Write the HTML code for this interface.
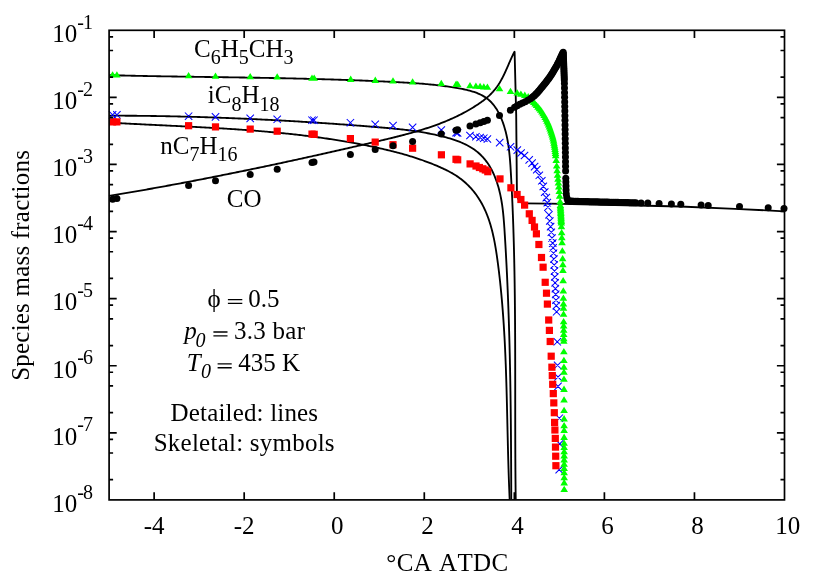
<!DOCTYPE html>
<html><head><meta charset="utf-8"><title>Species mass fractions</title>
<style>html,body{margin:0;padding:0;background:#fff;}svg{display:block;will-change:transform;}</style>
</head><body>
<svg width="830" height="581" viewBox="0 0 830 581">
<rect width="830" height="581" fill="#fff"/>
<g fill="none" stroke="#000" stroke-width="1.85" stroke-linejoin="round" stroke-linecap="butt">
<path d="M109.10 122.57 L110.60 122.66 L112.10 122.75 L113.60 122.83 L115.10 122.92 L116.60 123.00 L118.10 123.09 L119.60 123.17 L121.10 123.25 L122.60 123.33 L124.10 123.41 L125.60 123.49 L127.10 123.57 L128.60 123.65 L130.11 123.73 L131.61 123.81 L133.11 123.88 L134.61 123.96 L136.11 124.04 L137.62 124.11 L139.12 124.19 L140.62 124.26 L142.12 124.34 L143.63 124.41 L145.13 124.49 L146.63 124.56 L148.13 124.63 L149.64 124.71 L151.14 124.78 L152.64 124.85 L154.15 124.93 L155.65 125.00 L157.15 125.07 L158.66 125.14 L160.16 125.22 L161.66 125.29 L163.17 125.36 L164.67 125.43 L166.17 125.51 L167.68 125.58 L169.18 125.65 L170.69 125.72 L172.19 125.80 L173.69 125.87 L175.20 125.94 L176.70 126.01 L178.20 126.09 L179.71 126.16 L181.21 126.24 L182.72 126.31 L184.22 126.39 L185.72 126.46 L187.23 126.54 L188.73 126.61 L190.23 126.69 L191.74 126.76 L193.24 126.84 L194.75 126.92 L196.25 127.00 L197.75 127.08 L199.26 127.15 L200.76 127.23 L202.26 127.31 L203.77 127.40 L205.27 127.48 L206.77 127.56 L208.28 127.64 L209.78 127.73 L211.28 127.81 L212.79 127.90 L214.29 127.98 L215.79 128.07 L217.29 128.16 L218.80 128.25 L220.30 128.34 L221.80 128.43 L223.30 128.52 L224.81 128.61 L226.31 128.70 L227.81 128.80 L229.31 128.89 L230.82 128.99 L232.32 129.09 L233.82 129.19 L235.32 129.29 L236.82 129.39 L238.32 129.49 L239.82 129.60 L241.32 129.70 L242.83 129.81 L244.33 129.91 L245.83 130.02 L247.33 130.13 L248.83 130.24 L250.33 130.36 L251.83 130.47 L253.33 130.59 L254.83 130.70 L256.33 130.82 L257.83 130.94 L259.32 131.07 L260.82 131.19 L262.32 131.31 L263.82 131.44 L265.32 131.57 L266.82 131.70 L268.31 131.83 L269.81 131.96 L271.31 132.10 L272.81 132.24 L274.30 132.37 L275.80 132.51 L277.30 132.66 L278.79 132.80 L280.29 132.95 L281.79 133.09 L283.28 133.24 L284.78 133.40 L286.27 133.55 L287.77 133.70 L289.26 133.86 L290.76 134.02 L292.25 134.18 L293.74 134.35 L295.24 134.51 L296.73 134.68 L298.22 134.85 L299.72 135.03 L301.21 135.20 L302.70 135.38 L304.19 135.56 L305.68 135.74 L307.18 135.92 L308.67 136.11 L310.16 136.30 L311.65 136.49 L313.14 136.68 L314.63 136.88 L316.12 137.08 L317.61 137.28 L319.09 137.48 L320.58 137.69 L322.07 137.89 L323.56 138.10 L325.05 138.32 L326.53 138.53 L328.02 138.75 L329.51 138.98 L330.99 139.20 L332.48 139.43 L333.96 139.66 L335.45 139.89 L336.93 140.12 L338.42 140.36 L339.90 140.60 L341.38 140.85 L342.87 141.09 L344.35 141.34 L345.83 141.60 L347.31 141.85 L348.79 142.11 L350.28 142.37 L351.76 142.64 L353.24 142.91 L354.72 143.18 L356.20 143.45 L357.67 143.73 L359.15 144.01 L360.63 144.29 L362.11 144.58 L363.59 144.87 L365.06 145.16 L366.54 145.46 L368.02 145.76 L369.49 146.06 L370.97 146.37 L372.44 146.68 L373.91 146.99 L375.39 147.31 L376.86 147.63 L378.33 147.95 L379.81 148.28 L381.28 148.61 L382.75 148.95 L384.22 149.29 L385.69 149.63 L387.15 149.98 L388.62 150.33 L390.09 150.69 L391.55 151.05 L393.01 151.42 L394.47 151.79 L395.93 152.17 L397.39 152.55 L398.85 152.94 L400.30 153.33 L401.76 153.73 L403.21 154.14 L404.66 154.55 L406.10 154.97 L407.55 155.39 L408.99 155.82 L410.43 156.26 L411.87 156.70 L413.30 157.15 L414.74 157.61 L416.17 158.07 L417.59 158.54 L419.02 159.02 L420.44 159.51 L421.86 160.00 L423.28 160.50 L424.69 161.01 L426.10 161.53 L427.51 162.06 L428.91 162.59 L430.31 163.13 L431.70 163.68 L433.10 164.24 L434.49 164.81 L435.87 165.38 L437.25 165.97 L438.63 166.56 L440.00 167.17 L441.37 167.78 L442.74 168.41 L444.10 169.04 L445.45 169.69 L446.80 170.35 L448.14 171.03 L449.47 171.73 L450.80 172.45 L452.11 173.18 L453.42 173.94 L454.71 174.72 L455.99 175.53 L457.26 176.37 L458.52 177.23 L459.76 178.13 L460.99 179.05 L462.20 180.00 L463.40 180.99 L464.58 181.99 L465.73 183.02 L466.87 184.08 L467.97 185.15 L469.06 186.24 L470.12 187.35 L471.14 188.47 L472.15 189.61 L473.12 190.76 L474.07 191.93 L474.99 193.11 L475.89 194.30 L476.76 195.50 L477.60 196.72 L478.43 197.95 L479.22 199.20 L480.00 200.45 L480.75 201.72 L481.48 203.00 L482.19 204.29 L482.87 205.59 L483.54 206.91 L484.18 208.23 L484.80 209.56 L485.41 210.90 L485.99 212.26 L486.56 213.62 L487.11 214.99 L487.64 216.37 L488.15 217.76 L488.65 219.15 L489.12 220.55 L489.59 221.97 L490.03 223.38 L490.47 224.81 L490.88 226.24 L491.29 227.68 L491.68 229.13 L492.05 230.58 L492.42 232.03 L492.77 233.50 L493.11 234.96 L493.43 236.43 L493.75 237.91 L494.06 239.39 L494.35 240.88 L494.64 242.36 L494.92 243.85 L495.18 245.35 L495.44 246.85 L495.70 248.35 L495.94 249.85 L496.18 251.35 L496.41 252.86 L496.64 254.37 L496.86 255.87 L497.07 257.38 L497.28 258.89 L497.49 260.40 L497.69 261.91 L497.89 263.42 L498.09 264.93 L498.28 266.44 L498.47 267.95 L498.66 269.46 L498.84 270.97 L499.03 272.48 L499.20 273.98 L499.38 275.49 L499.55 277.00 L499.72 278.50 L499.89 280.01 L500.06 281.52 L500.22 283.02 L500.38 284.53 L500.53 286.03 L500.69 287.54 L500.84 289.04 L500.99 290.54 L501.13 292.05 L501.28 293.55 L501.42 295.06 L501.56 296.56 L501.69 298.06 L501.83 299.56 L501.96 301.07 L502.09 302.57 L502.22 304.07 L502.34 305.57 L502.46 307.07 L502.58 308.58 L502.70 310.08 L502.82 311.58 L502.93 313.08 L503.04 314.58 L503.15 316.08 L503.26 317.58 L503.36 319.08 L503.47 320.58 L503.57 322.08 L503.67 323.58 L503.77 325.08 L503.86 326.58 L503.95 328.08 L504.05 329.58 L504.14 331.08 L504.22 332.57 L504.31 334.07 L504.40 335.57 L504.48 337.07 L504.56 338.57 L504.64 340.07 L504.72 341.57 L504.80 343.06 L504.87 344.56 L504.94 346.06 L505.02 347.56 L505.09 349.05 L505.16 350.55 L505.22 352.05 L505.29 353.55 L505.36 355.05 L505.42 356.54 L505.48 358.04 L505.54 359.54 L505.60 361.04 L505.66 362.53 L505.72 364.03 L505.78 365.53 L505.83 367.02 L505.89 368.52 L505.94 370.02 L505.99 371.52 L506.04 373.01 L506.09 374.51 L506.14 376.01 L506.19 377.51 L506.24 379.00 L506.28 380.50 L506.33 382.00 L506.38 383.50 L506.42 385.00 L506.46 386.49 L506.51 387.99 L506.55 389.49 L506.59 390.99 L506.63 392.48 L506.67 393.98 L506.71 395.48 L506.75 396.98 L506.79 398.48 L506.82 399.98 L506.86 401.48 L506.90 402.97 L506.94 404.47 L506.97 405.97 L507.01 407.47 L507.04 408.97 L507.08 410.47 L507.11 411.97 L507.15 413.47 L507.18 414.97 L507.22 416.47 L507.25 417.97 L507.29 419.47 L507.32 420.97 L507.35 422.47 L507.39 423.97 L507.42 425.47 L507.46 426.98 L507.49 428.48 L507.52 429.98 L507.56 431.48 L507.59 432.98 L507.63 434.49 L507.66 435.99 L507.70 437.49 L507.73 439.00 L507.77 440.50 L507.80 442.00 L507.84 443.51 L507.87 445.01 L507.91 446.52 L507.95 448.02 L507.99 449.53 L508.02 451.03 L508.06 452.54 L508.10 454.04 L508.14 455.55 L508.18 457.06 L508.22 458.56 L508.26 460.07 L508.31 461.58 L508.35 463.09 L508.39 464.59 L508.44 466.10 L508.48 467.61 L508.53 469.12 L508.58 470.63 L508.62 472.14 L508.67 473.65 L508.72 475.16 L508.77 476.67 L508.82 478.18 L508.88 479.70 L508.93 481.21 L508.99 482.72 L509.04 484.23 L509.10 485.75 L509.16 487.26 L509.22 488.78 L509.28 490.29 L509.34 491.81 L509.40 493.32 L509.46 494.84 L509.53 496.35 L509.60 497.87 L509.67 499.39"/>
<path d="M109.10 115.66 L110.60 115.66 L112.11 115.66 L113.61 115.66 L115.12 115.67 L116.62 115.67 L118.13 115.68 L119.64 115.68 L121.14 115.69 L122.65 115.69 L124.15 115.70 L125.66 115.71 L127.17 115.72 L128.67 115.73 L130.18 115.74 L131.68 115.75 L133.19 115.76 L134.70 115.78 L136.20 115.79 L137.71 115.81 L139.21 115.82 L140.72 115.84 L142.22 115.85 L143.73 115.87 L145.24 115.89 L146.74 115.91 L148.25 115.93 L149.75 115.95 L151.26 115.97 L152.77 115.99 L154.27 116.02 L155.78 116.04 L157.28 116.06 L158.79 116.09 L160.30 116.12 L161.80 116.14 L163.31 116.17 L164.81 116.20 L166.32 116.23 L167.83 116.26 L169.33 116.29 L170.84 116.32 L172.34 116.35 L173.85 116.38 L175.36 116.41 L176.86 116.45 L178.37 116.48 L179.87 116.52 L181.38 116.55 L182.88 116.59 L184.39 116.63 L185.90 116.67 L187.40 116.71 L188.91 116.75 L190.41 116.79 L191.92 116.83 L193.43 116.87 L194.93 116.91 L196.44 116.95 L197.94 117.00 L199.45 117.04 L200.95 117.09 L202.46 117.13 L203.97 117.18 L205.47 117.23 L206.98 117.28 L208.48 117.33 L209.99 117.38 L211.49 117.43 L213.00 117.48 L214.50 117.53 L216.01 117.58 L217.51 117.64 L219.02 117.69 L220.53 117.74 L222.03 117.80 L223.54 117.86 L225.04 117.91 L226.55 117.97 L228.05 118.03 L229.56 118.09 L231.06 118.15 L232.57 118.21 L234.07 118.27 L235.58 118.33 L237.08 118.39 L238.59 118.46 L240.09 118.52 L241.60 118.58 L243.10 118.65 L244.61 118.71 L246.11 118.78 L247.62 118.85 L249.12 118.92 L250.63 118.98 L252.13 119.05 L253.63 119.12 L255.14 119.19 L256.64 119.27 L258.15 119.34 L259.65 119.41 L261.16 119.48 L262.66 119.56 L264.17 119.63 L265.67 119.71 L267.17 119.78 L268.68 119.86 L270.18 119.94 L271.69 120.02 L273.19 120.10 L274.69 120.17 L276.20 120.25 L277.70 120.34 L279.21 120.42 L280.71 120.50 L282.21 120.58 L283.72 120.67 L285.22 120.75 L286.72 120.83 L288.23 120.92 L289.73 121.01 L291.23 121.09 L292.74 121.18 L294.24 121.27 L295.74 121.36 L297.25 121.45 L298.75 121.54 L300.25 121.63 L301.76 121.72 L303.26 121.81 L304.76 121.90 L306.26 122.00 L307.77 122.09 L309.27 122.19 L310.77 122.28 L312.27 122.38 L313.78 122.47 L315.28 122.57 L316.78 122.67 L318.28 122.77 L319.79 122.87 L321.29 122.97 L322.79 123.07 L324.29 123.17 L325.79 123.27 L327.30 123.37 L328.80 123.48 L330.30 123.58 L331.80 123.68 L333.30 123.79 L334.80 123.89 L336.31 124.00 L337.81 124.11 L339.31 124.21 L340.81 124.32 L342.31 124.43 L343.81 124.54 L345.31 124.65 L346.81 124.76 L348.31 124.87 L349.81 124.98 L351.32 125.10 L352.82 125.21 L354.32 125.32 L355.82 125.44 L357.32 125.55 L358.82 125.67 L360.32 125.79 L361.82 125.90 L363.32 126.02 L364.82 126.14 L366.32 126.26 L367.82 126.38 L369.32 126.50 L370.82 126.62 L372.32 126.74 L373.81 126.86 L375.31 126.98 L376.81 127.11 L378.31 127.23 L379.81 127.35 L381.31 127.48 L382.81 127.61 L384.31 127.74 L385.81 127.87 L387.30 128.00 L388.80 128.14 L390.30 128.28 L391.80 128.42 L393.29 128.56 L394.79 128.71 L396.29 128.86 L397.78 129.02 L399.28 129.18 L400.77 129.34 L402.27 129.51 L403.76 129.68 L405.26 129.85 L406.75 130.04 L408.25 130.22 L409.74 130.41 L411.23 130.61 L412.73 130.82 L414.22 131.03 L415.71 131.24 L417.20 131.46 L418.69 131.69 L420.18 131.93 L421.67 132.17 L423.16 132.42 L424.65 132.68 L426.13 132.95 L427.62 133.22 L429.11 133.50 L430.59 133.80 L432.08 134.10 L433.56 134.40 L435.04 134.72 L436.53 135.05 L438.01 135.39 L439.49 135.73 L440.97 136.09 L442.45 136.46 L443.93 136.83 L445.41 137.22 L446.88 137.62 L448.35 138.04 L449.82 138.47 L451.28 138.91 L452.73 139.37 L454.18 139.84 L455.61 140.34 L457.04 140.85 L458.46 141.38 L459.86 141.93 L461.25 142.51 L462.63 143.10 L464.00 143.72 L465.35 144.36 L466.68 145.03 L468.00 145.72 L469.30 146.44 L470.57 147.19 L471.83 147.96 L473.07 148.77 L474.29 149.60 L475.48 150.46 L476.65 151.36 L477.79 152.29 L478.91 153.25 L480.00 154.25 L481.07 155.28 L482.10 156.34 L483.11 157.43 L484.09 158.56 L485.05 159.71 L485.97 160.88 L486.87 162.09 L487.73 163.32 L488.57 164.57 L489.38 165.84 L490.16 167.13 L490.91 168.45 L491.63 169.78 L492.32 171.13 L492.98 172.49 L493.62 173.86 L494.23 175.25 L494.81 176.65 L495.37 178.05 L495.91 179.47 L496.42 180.89 L496.92 182.31 L497.38 183.74 L497.83 185.17 L498.26 186.61 L498.67 188.06 L499.06 189.51 L499.43 190.96 L499.78 192.42 L500.11 193.88 L500.43 195.35 L500.73 196.82 L501.01 198.29 L501.28 199.77 L501.54 201.25 L501.78 202.73 L502.01 204.22 L502.23 205.71 L502.43 207.20 L502.62 208.70 L502.81 210.19 L502.98 211.69 L503.14 213.19 L503.29 214.70 L503.44 216.20 L503.58 217.71 L503.71 219.22 L503.83 220.72 L503.95 222.23 L504.07 223.74 L504.18 225.26 L504.28 226.77 L504.39 228.28 L504.49 229.79 L504.58 231.30 L504.68 232.82 L504.77 234.33 L504.87 235.84 L504.96 237.35 L505.05 238.86 L505.15 240.37 L505.24 241.88 L505.33 243.39 L505.42 244.91 L505.50 246.42 L505.59 247.93 L505.68 249.43 L505.76 250.94 L505.85 252.45 L505.93 253.96 L506.01 255.47 L506.09 256.98 L506.17 258.49 L506.25 260.00 L506.33 261.51 L506.41 263.01 L506.49 264.52 L506.57 266.03 L506.64 267.54 L506.72 269.04 L506.79 270.55 L506.86 272.06 L506.94 273.56 L507.01 275.07 L507.08 276.58 L507.15 278.08 L507.22 279.59 L507.28 281.09 L507.35 282.60 L507.42 284.11 L507.48 285.61 L507.55 287.12 L507.61 288.62 L507.68 290.13 L507.74 291.63 L507.80 293.14 L507.86 294.64 L507.92 296.15 L507.98 297.65 L508.04 299.15 L508.10 300.66 L508.16 302.16 L508.22 303.67 L508.27 305.17 L508.33 306.67 L508.38 308.18 L508.44 309.68 L508.49 311.19 L508.54 312.69 L508.60 314.19 L508.65 315.70 L508.70 317.20 L508.75 318.70 L508.80 320.20 L508.85 321.71 L508.89 323.21 L508.94 324.71 L508.99 326.22 L509.03 327.72 L509.08 329.22 L509.12 330.72 L509.17 332.23 L509.21 333.73 L509.25 335.23 L509.30 336.73 L509.34 338.24 L509.38 339.74 L509.42 341.24 L509.46 342.74 L509.50 344.24 L509.54 345.75 L509.57 347.25 L509.61 348.75 L509.65 350.25 L509.68 351.75 L509.72 353.26 L509.76 354.76 L509.79 356.26 L509.82 357.76 L509.86 359.26 L509.89 360.77 L509.92 362.27 L509.95 363.77 L509.99 365.27 L510.02 366.77 L510.05 368.28 L510.08 369.78 L510.11 371.28 L510.13 372.78 L510.16 374.29 L510.19 375.79 L510.22 377.29 L510.25 378.79 L510.27 380.29 L510.30 381.80 L510.32 383.30 L510.35 384.80 L510.37 386.30 L510.40 387.81 L510.42 389.31 L510.44 390.81 L510.47 392.31 L510.49 393.82 L510.51 395.32 L510.53 396.82 L510.55 398.33 L510.57 399.83 L510.59 401.33 L510.61 402.84 L510.63 404.34 L510.65 405.84 L510.67 407.35 L510.69 408.85 L510.71 410.35 L510.72 411.86 L510.74 413.36 L510.76 414.87 L510.77 416.37 L510.79 417.87 L510.81 419.38 L510.82 420.88 L510.84 422.39 L510.85 423.89 L510.87 425.40 L510.88 426.90 L510.89 428.41 L510.91 429.91 L510.92 431.42 L510.93 432.92 L510.94 434.43 L510.96 435.94 L510.97 437.44 L510.98 438.95 L510.99 440.45 L511.00 441.96 L511.01 443.47 L511.02 444.97 L511.03 446.48 L511.04 447.99 L511.05 449.50 L511.06 451.00 L511.07 452.51 L511.08 454.02 L511.09 455.53 L511.10 457.04 L511.11 458.54 L511.11 460.05 L511.12 461.56 L511.13 463.07 L511.14 464.58 L511.14 466.09 L511.15 467.60 L511.16 469.11 L511.16 470.62 L511.17 472.13 L511.18 473.64 L511.18 475.15 L511.19 476.66 L511.20 478.17 L511.20 479.69 L511.21 481.20 L511.21 482.71 L511.22 484.22 L511.22 485.73 L511.23 487.25 L511.23 488.76 L511.24 490.27 L511.24 491.79 L511.25 493.30 L511.25 494.81 L511.25 496.33 L511.26 497.84 L511.26 499.36"/>
<path d="M109.09 75.16 L110.60 75.20 L112.10 75.24 L113.61 75.28 L115.11 75.32 L116.61 75.36 L118.12 75.40 L119.62 75.43 L121.13 75.47 L122.63 75.51 L124.13 75.54 L125.64 75.58 L127.14 75.61 L128.64 75.65 L130.15 75.68 L131.65 75.71 L133.15 75.75 L134.66 75.78 L136.16 75.81 L137.66 75.84 L139.16 75.87 L140.67 75.90 L142.17 75.93 L143.67 75.96 L145.18 75.99 L146.68 76.02 L148.18 76.05 L149.68 76.08 L151.19 76.11 L152.69 76.14 L154.19 76.16 L155.69 76.19 L157.20 76.22 L158.70 76.24 L160.20 76.27 L161.70 76.30 L163.21 76.32 L164.71 76.35 L166.21 76.37 L167.71 76.40 L169.22 76.42 L170.72 76.45 L172.22 76.47 L173.72 76.49 L175.22 76.52 L176.73 76.54 L178.23 76.57 L179.73 76.59 L181.23 76.61 L182.74 76.64 L184.24 76.66 L185.74 76.68 L187.24 76.70 L188.74 76.73 L190.25 76.75 L191.75 76.77 L193.25 76.79 L194.75 76.81 L196.25 76.84 L197.76 76.86 L199.26 76.88 L200.76 76.90 L202.26 76.92 L203.76 76.94 L205.27 76.97 L206.77 76.99 L208.27 77.01 L209.77 77.03 L211.27 77.05 L212.78 77.07 L214.28 77.10 L215.78 77.12 L217.28 77.14 L218.79 77.16 L220.29 77.18 L221.79 77.20 L223.29 77.23 L224.79 77.25 L226.30 77.27 L227.80 77.29 L229.30 77.31 L230.80 77.34 L232.31 77.36 L233.81 77.38 L235.31 77.40 L236.81 77.43 L238.31 77.45 L239.82 77.47 L241.32 77.50 L242.82 77.52 L244.32 77.54 L245.83 77.57 L247.33 77.59 L248.83 77.61 L250.34 77.64 L251.84 77.66 L253.34 77.69 L254.84 77.71 L256.35 77.74 L257.85 77.76 L259.35 77.79 L260.86 77.82 L262.36 77.84 L263.86 77.87 L265.36 77.90 L266.87 77.92 L268.37 77.95 L269.87 77.98 L271.38 78.01 L272.88 78.04 L274.38 78.07 L275.89 78.09 L277.39 78.12 L278.90 78.15 L280.40 78.19 L281.90 78.22 L283.41 78.25 L284.91 78.28 L286.41 78.31 L287.92 78.34 L289.42 78.38 L290.93 78.41 L292.43 78.44 L293.94 78.48 L295.44 78.51 L296.94 78.55 L298.45 78.58 L299.95 78.62 L301.46 78.66 L302.96 78.69 L304.46 78.73 L305.97 78.77 L307.47 78.81 L308.98 78.84 L310.48 78.88 L311.98 78.92 L313.49 78.96 L314.99 79.00 L316.50 79.05 L318.00 79.09 L319.50 79.13 L321.01 79.17 L322.51 79.22 L324.01 79.26 L325.52 79.30 L327.02 79.35 L328.53 79.39 L330.03 79.44 L331.53 79.49 L333.03 79.53 L334.54 79.58 L336.04 79.63 L337.54 79.68 L339.05 79.73 L340.55 79.78 L342.05 79.83 L343.55 79.88 L345.05 79.93 L346.56 79.98 L348.06 80.04 L349.56 80.09 L351.06 80.15 L352.56 80.20 L354.06 80.26 L355.56 80.31 L357.07 80.37 L358.57 80.43 L360.07 80.48 L361.57 80.54 L363.07 80.60 L364.57 80.66 L366.07 80.72 L367.56 80.78 L369.06 80.85 L370.56 80.91 L372.06 80.97 L373.56 81.04 L375.06 81.10 L376.56 81.17 L378.05 81.23 L379.55 81.30 L381.05 81.37 L382.55 81.44 L384.04 81.50 L385.54 81.57 L387.03 81.64 L388.53 81.72 L390.03 81.79 L391.52 81.86 L393.02 81.93 L394.51 82.01 L396.00 82.08 L397.50 82.16 L398.99 82.24 L400.49 82.32 L401.98 82.40 L403.47 82.48 L404.97 82.56 L406.46 82.65 L407.96 82.74 L409.45 82.83 L410.94 82.92 L412.44 83.02 L413.93 83.12 L415.43 83.22 L416.92 83.33 L418.42 83.44 L419.92 83.56 L421.41 83.67 L422.91 83.79 L424.41 83.92 L425.91 84.05 L427.41 84.19 L428.91 84.33 L430.41 84.47 L431.91 84.62 L433.41 84.77 L434.91 84.93 L436.42 85.10 L437.92 85.27 L439.43 85.45 L440.94 85.63 L442.44 85.82 L443.95 86.02 L445.46 86.22 L446.98 86.43 L448.49 86.65 L450.00 86.88 L451.52 87.11 L453.04 87.35 L454.55 87.59 L456.07 87.85 L457.60 88.11 L459.12 88.38 L460.64 88.66 L462.16 88.96 L463.68 89.27 L465.18 89.59 L466.69 89.93 L468.18 90.29 L469.65 90.68 L471.12 91.08 L472.57 91.52 L474.00 91.97 L475.42 92.46 L476.81 92.98 L478.18 93.53 L479.52 94.12 L480.84 94.74 L482.13 95.40 L483.39 96.10 L484.61 96.84 L485.81 97.62 L486.96 98.45 L488.08 99.33 L489.16 100.25 L490.21 101.22 L491.21 102.24 L492.18 103.29 L493.12 104.38 L494.02 105.51 L494.89 106.68 L495.72 107.88 L496.52 109.11 L497.29 110.36 L498.03 111.65 L498.74 112.96 L499.42 114.29 L500.07 115.65 L500.70 117.02 L501.29 118.41 L501.86 119.81 L502.41 121.23 L502.93 122.65 L503.43 124.09 L503.90 125.53 L504.35 126.98 L504.78 128.43 L505.19 129.88 L505.58 131.34 L505.95 132.80 L506.30 134.27 L506.63 135.74 L506.94 137.21 L507.24 138.69 L507.52 140.17 L507.78 141.65 L508.03 143.13 L508.27 144.62 L508.49 146.11 L508.70 147.60 L508.89 149.09 L509.08 150.59 L509.25 152.09 L509.41 153.59 L509.56 155.09 L509.71 156.59 L509.84 158.09 L509.97 159.60 L510.09 161.10 L510.21 162.61 L510.31 164.12 L510.42 165.63 L510.52 167.14 L510.61 168.65 L510.70 170.15 L510.79 171.66 L510.88 173.17 L510.97 174.68 L511.05 176.19 L511.14 177.70 L511.22 179.21 L511.30 180.72 L511.39 182.23 L511.47 183.73 L511.54 185.24 L511.62 186.75 L511.70 188.26 L511.77 189.76 L511.85 191.27 L511.92 192.78 L511.99 194.29 L512.07 195.79 L512.14 197.30 L512.21 198.81 L512.27 200.31 L512.34 201.82 L512.41 203.32 L512.47 204.83 L512.53 206.34 L512.60 207.84 L512.66 209.35 L512.72 210.85 L512.78 212.36 L512.84 213.86 L512.90 215.37 L512.95 216.87 L513.01 218.38 L513.07 219.88 L513.12 221.38 L513.17 222.89 L513.23 224.39 L513.28 225.90 L513.33 227.40 L513.38 228.90 L513.43 230.41 L513.47 231.91 L513.52 233.41 L513.57 234.92 L513.61 236.42 L513.66 237.92 L513.70 239.43 L513.74 240.93 L513.79 242.43 L513.83 243.94 L513.87 245.44 L513.91 246.94 L513.95 248.44 L513.98 249.94 L514.02 251.45 L514.06 252.95 L514.09 254.45 L514.13 255.95 L514.16 257.45 L514.20 258.96 L514.23 260.46 L514.26 261.96 L514.29 263.46 L514.32 264.96 L514.35 266.46 L514.38 267.96 L514.41 269.47 L514.44 270.97 L514.47 272.47 L514.49 273.97 L514.52 275.47 L514.54 276.97 L514.57 278.47 L514.59 279.97 L514.62 281.47 L514.64 282.97 L514.66 284.47 L514.68 285.97 L514.70 287.47 L514.72 288.97 L514.74 290.48 L514.76 291.98 L514.78 293.48 L514.80 294.98 L514.82 296.48 L514.84 297.98 L514.85 299.48 L514.87 300.98 L514.88 302.48 L514.90 303.98 L514.91 305.48 L514.93 306.98 L514.94 308.48 L514.96 309.98 L514.97 311.48 L514.98 312.98 L514.99 314.48 L515.01 315.98 L515.02 317.47 L515.03 318.97 L515.04 320.47 L515.05 321.97 L515.06 323.47 L515.07 324.97 L515.08 326.47 L515.08 327.97 L515.09 329.47 L515.10 330.97 L515.11 332.47 L515.11 333.97 L515.12 335.47 L515.13 336.97 L515.13 338.47 L515.14 339.97 L515.15 341.47 L515.15 342.97 L515.16 344.47 L515.16 345.97 L515.17 347.47 L515.17 348.97 L515.17 350.47 L515.18 351.97 L515.18 353.47 L515.18 354.97 L515.19 356.47 L515.19 357.97 L515.19 359.47 L515.20 360.97 L515.20 362.47 L515.20 363.97 L515.20 365.47 L515.20 366.97 L515.21 368.47 L515.21 369.97 L515.21 371.47 L515.21 372.97 L515.21 374.47 L515.21 375.97 L515.21 377.47 L515.22 378.97 L515.22 380.47 L515.22 381.98 L515.22 383.48 L515.22 384.98 L515.22 386.48 L515.22 387.98 L515.22 389.48 L515.22 390.98 L515.22 392.48 L515.22 393.98 L515.22 395.49 L515.22 396.99 L515.22 398.49 L515.22 399.99 L515.22 401.49 L515.23 402.99 L515.23 404.50 L515.23 406.00 L515.23 407.50 L515.23 409.00 L515.23 410.50 L515.23 412.01 L515.23 413.51 L515.23 415.01 L515.23 416.51 L515.24 418.02 L515.24 419.52 L515.24 421.02 L515.24 422.53 L515.24 424.03 L515.24 425.53 L515.25 427.04 L515.25 428.54 L515.25 430.04 L515.26 431.55 L515.26 433.05 L515.26 434.56 L515.27 436.06 L515.27 437.56 L515.27 439.07 L515.28 440.57 L515.28 442.08 L515.29 443.58 L515.29 445.09 L515.30 446.59 L515.30 448.10 L515.31 449.60 L515.31 451.11 L515.32 452.61 L515.33 454.12 L515.33 455.63 L515.34 457.13 L515.35 458.64 L515.36 460.15 L515.37 461.65 L515.38 463.16 L515.38 464.67 L515.39 466.17 L515.40 467.68 L515.41 469.19 L515.42 470.69 L515.44 472.20 L515.45 473.71 L515.46 475.22 L515.47 476.73 L515.48 478.24 L515.50 479.74 L515.51 481.25 L515.53 482.76 L515.54 484.27 L515.56 485.78 L515.57 487.29 L515.59 488.80 L515.60 490.31 L515.62 491.82 L515.64 493.33 L515.66 494.84 L515.68 496.35 L515.70 497.86 L515.72 499.37"/>
<path d="M108.99 195.95 L110.49 195.70 L112.00 195.45 L113.50 195.20 L115.00 194.95 L116.50 194.70 L117.99 194.45 L119.49 194.20 L120.99 193.94 L122.49 193.69 L123.99 193.43 L125.48 193.18 L126.98 192.92 L128.48 192.67 L129.97 192.41 L131.47 192.15 L132.96 191.89 L134.45 191.63 L135.95 191.37 L137.44 191.11 L138.93 190.85 L140.43 190.59 L141.92 190.33 L143.41 190.07 L144.90 189.80 L146.39 189.54 L147.88 189.27 L149.37 189.01 L150.86 188.74 L152.35 188.48 L153.84 188.21 L155.33 187.94 L156.82 187.67 L158.30 187.40 L159.79 187.13 L161.28 186.86 L162.77 186.59 L164.25 186.32 L165.74 186.05 L167.22 185.77 L168.71 185.50 L170.19 185.23 L171.68 184.95 L173.16 184.68 L174.65 184.40 L176.13 184.12 L177.61 183.85 L179.10 183.57 L180.58 183.29 L182.06 183.01 L183.54 182.73 L185.03 182.45 L186.51 182.17 L187.99 181.89 L189.47 181.61 L190.95 181.33 L192.43 181.04 L193.91 180.76 L195.39 180.47 L196.87 180.19 L198.35 179.90 L199.83 179.62 L201.31 179.33 L202.79 179.04 L204.27 178.76 L205.75 178.47 L207.22 178.18 L208.70 177.89 L210.18 177.60 L211.66 177.31 L213.13 177.02 L214.61 176.73 L216.09 176.43 L217.56 176.14 L219.04 175.85 L220.52 175.55 L221.99 175.26 L223.47 174.96 L224.94 174.67 L226.42 174.37 L227.90 174.07 L229.37 173.78 L230.85 173.48 L232.32 173.18 L233.80 172.88 L235.27 172.58 L236.74 172.28 L238.22 171.98 L239.69 171.68 L241.17 171.38 L242.64 171.08 L244.11 170.77 L245.59 170.47 L247.06 170.17 L248.54 169.86 L250.01 169.56 L251.48 169.25 L252.96 168.95 L254.43 168.64 L255.90 168.33 L257.38 168.02 L258.85 167.72 L260.32 167.41 L261.79 167.10 L263.27 166.79 L264.74 166.48 L266.21 166.17 L267.68 165.86 L269.16 165.55 L270.63 165.23 L272.10 164.92 L273.57 164.61 L275.05 164.29 L276.52 163.98 L277.99 163.66 L279.46 163.35 L280.94 163.03 L282.41 162.72 L283.88 162.40 L285.35 162.08 L286.82 161.76 L288.30 161.45 L289.77 161.13 L291.24 160.81 L292.71 160.49 L294.19 160.17 L295.66 159.85 L297.13 159.53 L298.60 159.20 L300.08 158.88 L301.55 158.56 L303.02 158.24 L304.49 157.91 L305.97 157.59 L307.44 157.26 L308.91 156.94 L310.39 156.61 L311.86 156.29 L313.33 155.96 L314.80 155.63 L316.28 155.31 L317.75 154.98 L319.22 154.65 L320.70 154.32 L322.17 153.99 L323.65 153.66 L325.12 153.33 L326.59 153.00 L328.07 152.67 L329.54 152.34 L331.02 152.01 L332.49 151.67 L333.97 151.34 L335.44 151.01 L336.92 150.67 L338.39 150.34 L339.87 150.01 L341.34 149.67 L342.82 149.34 L344.29 149.00 L345.77 148.66 L347.25 148.33 L348.72 147.99 L350.20 147.65 L351.68 147.31 L353.15 146.97 L354.63 146.63 L356.11 146.30 L357.58 145.96 L359.06 145.61 L360.54 145.27 L362.02 144.93 L363.50 144.59 L364.98 144.25 L366.45 143.91 L367.93 143.56 L369.41 143.22 L370.89 142.88 L372.37 142.53 L373.85 142.19 L375.33 141.84 L376.81 141.50 L378.29 141.15 L379.78 140.81 L381.26 140.46 L382.74 140.11 L384.22 139.76 L385.70 139.41 L387.18 139.05 L388.66 138.70 L390.14 138.34 L391.61 137.98 L393.09 137.62 L394.57 137.26 L396.04 136.89 L397.52 136.52 L398.99 136.15 L400.46 135.77 L401.94 135.39 L403.41 135.01 L404.87 134.62 L406.34 134.23 L407.81 133.84 L409.27 133.44 L410.73 133.03 L412.19 132.62 L413.65 132.21 L415.10 131.79 L416.56 131.37 L418.01 130.94 L419.46 130.51 L420.90 130.07 L422.35 129.62 L423.79 129.17 L425.22 128.71 L426.66 128.25 L428.09 127.78 L429.52 127.30 L430.95 126.82 L432.37 126.33 L433.79 125.83 L435.21 125.32 L436.62 124.81 L438.03 124.29 L439.44 123.76 L440.84 123.22 L442.24 122.67 L443.63 122.12 L445.02 121.56 L446.41 120.98 L447.79 120.40 L449.17 119.81 L450.54 119.21 L451.91 118.60 L453.27 117.99 L454.63 117.36 L455.99 116.72 L457.34 116.07 L458.69 115.41 L460.03 114.74 L461.36 114.06 L462.69 113.37 L464.02 112.67 L465.34 111.95 L466.65 111.23 L467.96 110.49 L469.26 109.74 L470.56 108.98 L471.85 108.21 L473.14 107.43 L474.41 106.63 L475.69 105.82 L476.95 104.99 L478.21 104.16 L479.47 103.31 L480.71 102.44 L481.93 101.56 L483.15 100.66 L484.34 99.74 L485.52 98.80 L486.68 97.84 L487.81 96.86 L488.93 95.85 L490.01 94.82 L491.07 93.77 L492.10 92.69 L493.10 91.59 L494.08 90.46 L495.02 89.31 L495.94 88.13 L496.83 86.93 L497.69 85.71 L498.53 84.47 L499.34 83.21 L500.12 81.93 L500.88 80.62 L501.61 79.31 L502.33 77.97 L503.02 76.62 L503.70 75.26 L504.36 73.89 L505.01 72.51 L505.65 71.12 L506.27 69.72 L506.89 68.32 L507.51 66.92 L508.12 65.52 L508.72 64.12 L509.33 62.72 L509.94 61.32 L510.55 59.93 L511.17 58.55 L511.80 57.18 L512.43 55.82 L513.08 54.47 L513.74 53.13 L514.41 51.82 L514.6 51.9L516.2 115L516.9 191Q517.2 203.2 524.5 203.3L550 203.7L615 205.0L680 206.5L735 208.8L784.5 211.3"/>
</g>
<path d="M108.90 111.10l7.40 7.40M108.90 118.50l7.40 -7.40M113.20 111.10l7.40 7.40M113.20 118.50l7.40 -7.40M184.90 112.50l7.40 7.40M184.90 119.90l7.40 -7.40M211.80 113.20l7.40 7.40M211.80 120.60l7.40 -7.40M246.50 114.70l7.40 7.40M246.50 122.10l7.40 -7.40M273.50 115.60l7.40 7.40M273.50 123.00l7.40 -7.40M308.30 116.50l7.40 7.40M308.30 123.90l7.40 -7.40M310.30 116.50l7.40 7.40M310.30 123.90l7.40 -7.40M346.70 119.00l7.40 7.40M346.70 126.40l7.40 -7.40M371.50 120.60l7.40 7.40M371.50 128.00l7.40 -7.40M389.30 121.90l7.40 7.40M389.30 129.30l7.40 -7.40M408.90 123.70l7.40 7.40M408.90 131.10l7.40 -7.40M437.60 126.30l7.40 7.40M437.60 133.70l7.40 -7.40M452.40 129.00l7.40 7.40M452.40 136.40l7.40 -7.40M453.90 129.30l7.40 7.40M453.90 136.70l7.40 -7.40M466.30 131.80l7.40 7.40M466.30 139.20l7.40 -7.40M472.20 133.00l7.40 7.40M472.20 140.40l7.40 -7.40M476.40 133.80l7.40 7.40M476.40 141.20l7.40 -7.40M480.10 134.50l7.40 7.40M480.10 141.90l7.40 -7.40M483.70 135.30l7.40 7.40M483.70 142.70l7.40 -7.40M496.00 138.90l7.40 7.40M496.00 146.30l7.40 -7.40M506.80 143.10l7.40 7.40M506.80 150.50l7.40 -7.40M513.60 146.40l7.40 7.40M513.60 153.80l7.40 -7.40M517.40 149.30l7.40 7.40M517.40 156.70l7.40 -7.40M520.80 151.80l7.40 7.40M520.80 159.20l7.40 -7.40M525.50 156.20l7.40 7.40M525.50 163.60l7.40 -7.40M528.40 159.40l7.40 7.40M528.40 166.80l7.40 -7.40M530.90 162.90l7.40 7.40M530.90 170.30l7.40 -7.40M533.10 165.90l7.40 7.40M533.10 173.30l7.40 -7.40M535.60 171.60l7.40 7.40M535.60 179.00l7.40 -7.40M538.10 177.10l7.40 7.40M538.10 184.50l7.40 -7.40M539.60 182.70l7.40 7.40M539.60 190.10l7.40 -7.40M541.00 188.40l7.40 7.40M541.00 195.80l7.40 -7.40M542.60 193.90l7.40 7.40M542.60 201.30l7.40 -7.40M543.60 198.90l7.40 7.40M543.60 206.30l7.40 -7.40M544.20 203.50l7.40 7.40M544.20 210.90l7.40 -7.40M545.20 211.10l7.40 7.40M545.20 218.50l7.40 -7.40M546.10 217.30l7.40 7.40M546.10 224.70l7.40 -7.40M546.90 222.90l7.40 7.40M546.90 230.30l7.40 -7.40M547.60 228.60l7.40 7.40M547.60 236.00l7.40 -7.40M548.30 234.30l7.40 7.40M548.30 241.70l7.40 -7.40M549.00 239.40l7.40 7.40M549.00 246.80l7.40 -7.40M549.40 244.10l7.40 7.40M549.40 251.50l7.40 -7.40M549.80 249.50l7.40 7.40M549.80 256.90l7.40 -7.40M550.20 255.30l7.40 7.40M550.20 262.70l7.40 -7.40M550.50 261.30l7.40 7.40M550.50 268.70l7.40 -7.40M550.80 267.30l7.40 7.40M550.80 274.70l7.40 -7.40M551.10 273.30l7.40 7.40M551.10 280.70l7.40 -7.40M551.40 279.10l7.40 7.40M551.40 286.50l7.40 -7.40M551.70 284.90l7.40 7.40M551.70 292.30l7.40 -7.40M552.00 290.70l7.40 7.40M552.00 298.10l7.40 -7.40M552.30 296.50l7.40 7.40M552.30 303.90l7.40 -7.40M552.60 301.90l7.40 7.40M552.60 309.30l7.40 -7.40M552.90 308.10l7.40 7.40M552.90 315.50l7.40 -7.40M553.60 338.10l7.40 7.40M553.60 345.50l7.40 -7.40M553.90 361.60l7.40 7.40M553.90 369.00l7.40 -7.40M554.30 373.30l7.40 7.40M554.30 380.70l7.40 -7.40M554.30 382.70l7.40 7.40M554.30 390.10l7.40 -7.40M555.60 414.50l7.40 7.40M555.60 421.90l7.40 -7.40M556.00 440.20l7.40 7.40M556.00 447.60l7.40 -7.40M555.50 465.90l7.40 7.40M555.50 473.30l7.40 -7.40" fill="none" stroke="#0000ff" stroke-width="1.05"/>
<g fill="#ff0000">
<rect x="109.00" y="118.30" width="7.20" height="7.20"/>
<rect x="113.30" y="118.30" width="7.20" height="7.20"/>
<rect x="185.00" y="122.10" width="7.20" height="7.20"/>
<rect x="211.90" y="123.30" width="7.20" height="7.20"/>
<rect x="246.60" y="125.50" width="7.20" height="7.20"/>
<rect x="273.60" y="127.60" width="7.20" height="7.20"/>
<rect x="308.40" y="130.50" width="7.20" height="7.20"/>
<rect x="310.60" y="130.70" width="7.20" height="7.20"/>
<rect x="346.80" y="135.00" width="7.20" height="7.20"/>
<rect x="371.60" y="138.50" width="7.20" height="7.20"/>
<rect x="389.40" y="141.10" width="7.20" height="7.20"/>
<rect x="409.00" y="144.60" width="7.20" height="7.20"/>
<rect x="437.80" y="151.20" width="7.20" height="7.20"/>
<rect x="452.40" y="155.70" width="7.20" height="7.20"/>
<rect x="454.10" y="156.20" width="7.20" height="7.20"/>
<rect x="466.50" y="160.30" width="7.20" height="7.20"/>
<rect x="472.40" y="162.40" width="7.20" height="7.20"/>
<rect x="475.80" y="163.90" width="7.20" height="7.20"/>
<rect x="479.20" y="165.20" width="7.20" height="7.20"/>
<rect x="481.70" y="166.40" width="7.20" height="7.20"/>
<rect x="484.20" y="168.10" width="7.20" height="7.20"/>
<rect x="496.40" y="175.30" width="7.20" height="7.20"/>
<rect x="507.30" y="184.20" width="7.20" height="7.20"/>
<rect x="513.50" y="190.90" width="7.20" height="7.20"/>
<rect x="517.30" y="195.90" width="7.20" height="7.20"/>
<rect x="521.00" y="201.50" width="7.20" height="7.20"/>
<rect x="525.70" y="210.20" width="7.20" height="7.20"/>
<rect x="528.50" y="216.80" width="7.20" height="7.20"/>
<rect x="530.90" y="223.40" width="7.20" height="7.20"/>
<rect x="532.80" y="230.20" width="7.20" height="7.20"/>
<rect x="535.30" y="240.90" width="7.20" height="7.20"/>
<rect x="537.90" y="253.90" width="7.20" height="7.20"/>
<rect x="539.50" y="263.60" width="7.20" height="7.20"/>
<rect x="541.60" y="278.70" width="7.20" height="7.20"/>
<rect x="542.90" y="289.60" width="7.20" height="7.20"/>
<rect x="543.80" y="300.50" width="7.20" height="7.20"/>
<rect x="545.10" y="316.40" width="7.20" height="7.20"/>
<rect x="545.80" y="326.80" width="7.20" height="7.20"/>
<rect x="546.60" y="337.90" width="7.20" height="7.20"/>
<rect x="547.60" y="352.60" width="7.20" height="7.20"/>
<rect x="548.30" y="363.60" width="7.20" height="7.20"/>
<rect x="548.70" y="372.00" width="7.20" height="7.20"/>
<rect x="549.10" y="380.70" width="7.20" height="7.20"/>
<rect x="549.70" y="390.00" width="7.20" height="7.20"/>
<rect x="550.20" y="399.30" width="7.20" height="7.20"/>
<rect x="550.70" y="409.10" width="7.20" height="7.20"/>
<rect x="551.00" y="418.80" width="7.20" height="7.20"/>
<rect x="551.30" y="426.40" width="7.20" height="7.20"/>
<rect x="551.70" y="434.80" width="7.20" height="7.20"/>
<rect x="551.90" y="443.50" width="7.20" height="7.20"/>
<rect x="552.10" y="452.60" width="7.20" height="7.20"/>
<rect x="552.30" y="462.10" width="7.20" height="7.20"/>
</g>
<path d="M112.60 71.20L116.40 77.50L108.80 77.50ZM116.90 71.20L120.70 77.50L113.10 77.50ZM188.60 72.00L192.40 78.30L184.80 78.30ZM215.50 72.40L219.30 78.70L211.70 78.70ZM250.20 73.00L254.00 79.30L246.40 79.30ZM277.20 73.30L281.00 79.60L273.40 79.60ZM312.00 74.40L315.80 80.70L308.20 80.70ZM314.20 74.40L318.00 80.70L310.40 80.70ZM350.70 75.60L354.50 81.90L346.90 81.90ZM375.30 76.60L379.10 82.90L371.50 82.90ZM393.00 77.30L396.80 83.60L389.20 83.60ZM412.60 78.20L416.40 84.50L408.80 84.50ZM441.30 79.70L445.10 86.00L437.50 86.00ZM456.10 80.60L459.90 86.90L452.30 86.90ZM457.70 80.70L461.50 87.00L453.90 87.00ZM470.00 82.00L473.80 88.30L466.20 88.30ZM475.90 82.50L479.70 88.80L472.10 88.80ZM480.10 82.80L483.90 89.10L476.30 89.10ZM483.80 83.20L487.60 89.50L480.00 89.50ZM487.40 83.50L491.20 89.80L483.60 89.80ZM499.50 85.00L503.30 91.30L495.70 91.30ZM510.50 87.70L514.30 94.00L506.70 94.00ZM517.20 89.20L521.00 95.50L513.40 95.50ZM520.90 90.40L524.70 96.70L517.10 96.70ZM524.80 91.60L528.60 97.90L521.00 97.90ZM528.20 93.10L532.00 99.40L524.40 99.40ZM531.00 95.50L534.80 101.80L527.20 101.80ZM532.37 97.09L536.17 103.39L528.57 103.39ZM533.75 98.68L537.55 104.98L529.95 104.98ZM535.14 100.25L538.94 106.55L531.34 106.55ZM536.57 101.79L540.37 108.09L532.77 108.09ZM538.00 103.33L541.80 109.63L534.20 109.63ZM539.39 104.90L543.19 111.20L535.59 111.20ZM540.70 106.54L544.50 112.84L536.90 112.84ZM541.92 108.25L545.72 114.55L538.12 114.55ZM543.07 110.00L546.87 116.30L539.27 116.30ZM544.16 111.80L547.96 118.10L540.36 118.10ZM545.19 113.63L548.99 119.93L541.39 119.93ZM546.15 115.50L549.95 121.80L542.35 121.80ZM547.04 117.40L550.84 123.70L543.24 123.70ZM547.89 119.32L551.69 125.62L544.09 125.62ZM548.68 121.26L552.48 127.56L544.88 127.56ZM549.43 123.23L553.23 129.53L545.63 129.53ZM550.13 125.20L553.93 131.50L546.33 131.50ZM550.81 127.19L554.61 133.49L547.01 133.49ZM551.46 129.19L555.26 135.49L547.66 135.49ZM552.09 131.19L555.89 137.49L548.29 137.49ZM552.67 133.21L556.47 139.51L548.87 139.51ZM553.18 135.25L556.98 141.55L549.38 141.55ZM553.62 137.30L557.42 143.60L549.82 143.60ZM554.01 139.37L557.81 145.67L550.21 145.67ZM554.37 141.43L558.17 147.73L550.57 147.73ZM554.71 143.51L558.51 149.81L550.91 149.81ZM555.02 145.58L558.82 151.88L551.22 151.88ZM555.29 147.67L559.09 153.97L551.49 153.97ZM555.51 149.75L559.31 156.05L551.71 156.05ZM555.68 151.85L559.48 158.15L551.88 158.15ZM556.18 156.80L559.98 163.10L552.38 163.10ZM556.68 162.20L560.48 168.50L552.88 168.50ZM557.12 166.90L560.92 173.20L553.33 173.20ZM557.59 171.50L561.39 177.80L553.79 177.80ZM557.99 175.40L561.79 181.70L554.19 181.70ZM558.40 179.30L562.20 185.60L554.60 185.60ZM558.80 183.20L562.60 189.50L555.00 189.50ZM559.22 187.80L563.02 194.10L555.42 194.10ZM559.63 192.40L563.43 198.70L555.83 198.70ZM560.13 197.90L563.93 204.20L556.33 204.20ZM560.38 201.70L564.18 208.00L556.58 208.00ZM560.47 203.30L564.27 209.60L556.67 209.60ZM560.56 204.90L564.36 211.20L556.76 211.20ZM560.66 206.50L564.46 212.80L556.86 212.80ZM560.75 208.10L564.55 214.40L556.95 214.40ZM560.84 209.70L564.64 216.00L557.04 216.00ZM560.94 211.30L564.74 217.60L557.14 217.60ZM561.03 212.90L564.83 219.20L557.23 219.20ZM561.12 214.50L564.92 220.80L557.32 220.80ZM561.18 216.10L564.98 222.40L557.38 222.40ZM561.24 217.70L565.04 224.00L557.44 224.00ZM561.30 219.30L565.10 225.60L557.50 225.60ZM561.43 223.00L565.23 229.30L557.63 229.30ZM561.66 228.90L565.46 235.20L557.86 235.20ZM561.84 233.90L565.64 240.20L558.04 240.20ZM562.03 239.00L565.83 245.30L558.23 245.30ZM562.34 247.20L566.14 253.50L558.54 253.50ZM562.63 255.00L566.43 261.30L558.83 261.30ZM562.83 260.90L566.63 267.20L559.03 267.20ZM562.95 266.80L566.75 273.10L559.15 273.10ZM563.15 276.90L566.95 283.20L559.35 283.20ZM563.32 287.20L567.12 293.50L559.52 293.50ZM563.39 294.40L567.19 300.70L559.59 300.70ZM563.45 300.30L567.25 306.60L559.65 306.60ZM563.49 304.50L567.29 310.80L559.69 310.80ZM563.55 310.40L567.35 316.70L559.75 316.70ZM563.62 318.00L567.42 324.30L559.82 324.30ZM563.66 322.20L567.46 328.50L559.86 328.50ZM563.70 326.40L567.50 332.70L559.90 332.70ZM563.74 330.70L567.54 337.00L559.94 337.00ZM563.78 334.90L567.58 341.20L559.98 341.20ZM563.80 337.40L567.60 343.70L560.00 343.70ZM563.86 347.90L567.66 354.20L560.06 354.20ZM563.90 356.80L567.70 363.10L560.10 363.10ZM563.93 363.50L567.73 369.80L560.13 369.80ZM563.96 368.50L567.76 374.80L560.16 374.80ZM563.99 375.50L567.79 381.80L560.19 381.80ZM564.02 385.60L567.82 391.90L560.22 391.90ZM564.05 396.20L567.85 402.50L560.25 402.50ZM564.08 406.80L567.88 413.10L560.28 413.10ZM564.10 415.10L567.90 421.40L560.30 421.40ZM564.11 422.00L567.91 428.30L560.31 428.30ZM564.11 426.70L567.91 433.00L560.31 433.00ZM564.12 433.60L567.92 439.90L560.32 439.90ZM564.13 439.50L567.93 445.80L560.33 445.80ZM564.14 443.70L567.94 450.00L560.34 450.00ZM564.14 447.90L567.94 454.20L560.34 454.20ZM564.15 452.10L567.95 458.40L560.35 458.40ZM564.16 456.30L567.96 462.60L560.36 462.60ZM564.16 460.50L567.96 466.80L560.36 466.80ZM564.17 464.70L567.97 471.00L560.37 471.00ZM564.17 469.00L567.97 475.30L560.37 475.30ZM564.18 474.00L567.98 480.30L560.38 480.30ZM564.19 479.10L567.99 485.40L560.39 485.40ZM564.20 485.80L568.00 492.10L560.40 492.10Z" fill="#00ff00"/>
<g fill="#000">
<circle cx="112.60" cy="199.20" r="3.5"/>
<circle cx="116.90" cy="198.60" r="3.5"/>
<circle cx="188.60" cy="185.40" r="3.5"/>
<circle cx="215.50" cy="180.80" r="3.5"/>
<circle cx="250.20" cy="174.40" r="3.5"/>
<circle cx="277.20" cy="169.20" r="3.5"/>
<circle cx="312.00" cy="162.40" r="3.5"/>
<circle cx="314.00" cy="162.00" r="3.5"/>
<circle cx="350.40" cy="154.50" r="3.5"/>
<circle cx="375.20" cy="149.40" r="3.5"/>
<circle cx="393.00" cy="145.70" r="3.5"/>
<circle cx="412.60" cy="141.50" r="3.5"/>
<circle cx="441.30" cy="134.00" r="3.5"/>
<circle cx="456.00" cy="130.20" r="3.5"/>
<circle cx="457.60" cy="129.80" r="3.5"/>
<circle cx="470.00" cy="126.10" r="3.5"/>
<circle cx="475.90" cy="124.10" r="3.5"/>
<circle cx="480.10" cy="122.70" r="3.5"/>
<circle cx="483.80" cy="121.60" r="3.5"/>
<circle cx="487.40" cy="120.20" r="3.5"/>
<circle cx="499.50" cy="115.60" r="3.5"/>
<circle cx="510.40" cy="110.30" r="3.5"/>
<circle cx="514.60" cy="107.30" r="3.5"/>
<circle cx="517.12" cy="105.67" r="3.5"/>
<circle cx="519.72" cy="104.18" r="3.5"/>
<circle cx="522.44" cy="102.91" r="3.5"/>
<circle cx="525.18" cy="101.68" r="3.5"/>
<circle cx="527.82" cy="100.26" r="3.5"/>
<circle cx="530.36" cy="98.66" r="3.5"/>
<circle cx="531.99" cy="97.51" r="3.5"/>
<circle cx="533.18" cy="96.60" r="3.5"/>
<circle cx="534.32" cy="95.63" r="3.5"/>
<circle cx="535.42" cy="94.60" r="3.5"/>
<circle cx="536.46" cy="93.52" r="3.5"/>
<circle cx="537.47" cy="92.41" r="3.5"/>
<circle cx="538.45" cy="91.28" r="3.5"/>
<circle cx="539.42" cy="90.13" r="3.5"/>
<circle cx="540.38" cy="88.98" r="3.5"/>
<circle cx="541.34" cy="87.83" r="3.5"/>
<circle cx="542.31" cy="86.68" r="3.5"/>
<circle cx="543.27" cy="85.53" r="3.5"/>
<circle cx="544.22" cy="84.37" r="3.5"/>
<circle cx="545.15" cy="83.20" r="3.5"/>
<circle cx="546.08" cy="82.02" r="3.5"/>
<circle cx="546.99" cy="80.82" r="3.5"/>
<circle cx="547.88" cy="79.62" r="3.5"/>
<circle cx="548.76" cy="78.40" r="3.5"/>
<circle cx="549.61" cy="77.17" r="3.5"/>
<circle cx="550.46" cy="75.93" r="3.5"/>
<circle cx="551.28" cy="74.68" r="3.5"/>
<circle cx="552.10" cy="73.42" r="3.5"/>
<circle cx="552.89" cy="72.15" r="3.5"/>
<circle cx="553.68" cy="70.87" r="3.5"/>
<circle cx="554.45" cy="69.58" r="3.5"/>
<circle cx="555.21" cy="68.29" r="3.5"/>
<circle cx="555.95" cy="66.98" r="3.5"/>
<circle cx="556.68" cy="65.67" r="3.5"/>
<circle cx="557.39" cy="64.35" r="3.5"/>
<circle cx="558.08" cy="63.02" r="3.5"/>
<circle cx="558.76" cy="61.68" r="3.5"/>
<circle cx="559.40" cy="60.33" r="3.5"/>
<circle cx="560.03" cy="58.96" r="3.5"/>
<circle cx="560.64" cy="57.59" r="3.5"/>
<circle cx="561.26" cy="56.23" r="3.5"/>
<circle cx="561.90" cy="54.87" r="3.5"/>
<circle cx="562.55" cy="53.52" r="3.5"/>
<circle cx="563.21" cy="52.18" r="3.5"/>
<circle cx="563.37" cy="54.00" r="3.5"/>
<circle cx="563.44" cy="56.00" r="3.5"/>
<circle cx="563.51" cy="58.00" r="3.5"/>
<circle cx="563.59" cy="59.99" r="3.5"/>
<circle cx="563.66" cy="61.99" r="3.5"/>
<circle cx="563.73" cy="63.99" r="3.5"/>
<circle cx="563.80" cy="65.99" r="3.5"/>
<circle cx="563.87" cy="67.99" r="3.5"/>
<circle cx="563.94" cy="69.99" r="3.5"/>
<circle cx="564.01" cy="71.99" r="3.5"/>
<circle cx="564.09" cy="73.99" r="3.5"/>
<circle cx="564.16" cy="75.98" r="3.5"/>
<circle cx="564.23" cy="77.98" r="3.5"/>
<circle cx="564.30" cy="79.98" r="3.5"/>
<circle cx="564.40" cy="83.50" r="3.5"/>
<circle cx="564.48" cy="88.10" r="3.5"/>
<circle cx="564.55" cy="92.70" r="3.5"/>
<circle cx="564.62" cy="97.30" r="3.5"/>
<circle cx="564.69" cy="101.90" r="3.5"/>
<circle cx="564.76" cy="106.50" r="3.5"/>
<circle cx="564.83" cy="111.10" r="3.5"/>
<circle cx="564.90" cy="115.70" r="3.5"/>
<circle cx="564.97" cy="120.30" r="3.5"/>
<circle cx="565.03" cy="124.90" r="3.5"/>
<circle cx="565.09" cy="129.49" r="3.5"/>
<circle cx="565.15" cy="134.09" r="3.5"/>
<circle cx="565.21" cy="138.69" r="3.5"/>
<circle cx="565.27" cy="143.29" r="3.5"/>
<circle cx="565.33" cy="147.89" r="3.5"/>
<circle cx="565.39" cy="152.49" r="3.5"/>
<circle cx="565.44" cy="157.09" r="3.5"/>
<circle cx="565.50" cy="161.69" r="3.5"/>
<circle cx="565.55" cy="166.29" r="3.5"/>
<circle cx="565.60" cy="170.89" r="3.5"/>
<circle cx="565.80" cy="178.20" r="3.5"/>
<circle cx="565.90" cy="182.00" r="3.5"/>
<circle cx="566.00" cy="186.00" r="3.5"/>
<circle cx="566.10" cy="190.00" r="3.5"/>
<circle cx="566.30" cy="194.00" r="3.5"/>
<circle cx="566.80" cy="197.60" r="3.5"/>
<circle cx="567.90" cy="200.20" r="3.5"/>
<circle cx="567.90" cy="200.40" r="3.5"/>
<circle cx="569.84" cy="200.88" r="3.5"/>
<circle cx="571.83" cy="201.05" r="3.5"/>
<circle cx="573.83" cy="201.17" r="3.5"/>
<circle cx="575.83" cy="201.26" r="3.5"/>
<circle cx="577.83" cy="201.33" r="3.5"/>
<circle cx="579.82" cy="201.39" r="3.5"/>
<circle cx="581.82" cy="201.46" r="3.5"/>
<circle cx="583.82" cy="201.52" r="3.5"/>
<circle cx="585.82" cy="201.57" r="3.5"/>
<circle cx="587.82" cy="201.62" r="3.5"/>
<circle cx="589.82" cy="201.67" r="3.5"/>
<circle cx="591.82" cy="201.71" r="3.5"/>
<circle cx="593.82" cy="201.76" r="3.5"/>
<circle cx="595.82" cy="201.80" r="3.5"/>
<circle cx="597.82" cy="201.85" r="3.5"/>
<circle cx="599.82" cy="201.90" r="3.5"/>
<circle cx="601.82" cy="201.95" r="3.5"/>
<circle cx="603.82" cy="202.00" r="3.5"/>
<circle cx="605.82" cy="202.05" r="3.5"/>
<circle cx="607.82" cy="202.10" r="3.5"/>
<circle cx="609.81" cy="202.15" r="3.5"/>
<circle cx="611.81" cy="202.20" r="3.5"/>
<circle cx="613.81" cy="202.25" r="3.5"/>
<circle cx="615.81" cy="202.30" r="3.5"/>
<circle cx="617.81" cy="202.35" r="3.5"/>
<circle cx="619.81" cy="202.40" r="3.5"/>
<circle cx="621.81" cy="202.45" r="3.5"/>
<circle cx="623.81" cy="202.50" r="3.5"/>
<circle cx="625.81" cy="202.55" r="3.5"/>
<circle cx="627.81" cy="202.60" r="3.5"/>
<circle cx="629.81" cy="202.65" r="3.5"/>
<circle cx="631.81" cy="202.70" r="3.5"/>
<circle cx="633.81" cy="202.75" r="3.5"/>
<circle cx="635.81" cy="202.80" r="3.5"/>
<circle cx="641.10" cy="202.90" r="3.5"/>
<circle cx="647.80" cy="203.10" r="3.5"/>
<circle cx="659.10" cy="203.60" r="3.5"/>
<circle cx="671.40" cy="203.90" r="3.5"/>
<circle cx="680.80" cy="204.20" r="3.5"/>
<circle cx="701.10" cy="205.10" r="3.5"/>
<circle cx="708.20" cy="205.40" r="3.5"/>
<circle cx="739.50" cy="206.60" r="3.5"/>
<circle cx="768.20" cy="207.80" r="3.5"/>
<circle cx="784.00" cy="208.40" r="3.5"/>
</g>
<g fill="none" stroke="#000" stroke-width="1.70" stroke-linecap="butt">
<rect x="109.10" y="30.30" width="675.40" height="469.60"/>
<path d="M154.13 499.90v-7.60M154.13 30.30v7.60M244.18 499.90v-7.60M244.18 30.30v7.60M334.23 499.90v-7.60M334.23 30.30v7.60M424.29 499.90v-7.60M424.29 30.30v7.60M514.34 499.90v-7.60M514.34 30.30v7.60M604.39 499.90v-7.60M604.39 30.30v7.60M694.45 499.90v-7.60M694.45 30.30v7.60M109.10 36.80h4.00M784.50 36.80h-4.00M109.10 50.49h4.00M784.50 50.49h-4.00M109.10 77.19h4.00M784.50 77.19h-4.00M109.10 97.39h7.60M784.50 97.39h-7.60M109.10 103.89h4.00M784.50 103.89h-4.00M109.10 117.58h4.00M784.50 117.58h-4.00M109.10 144.28h4.00M784.50 144.28h-4.00M109.10 164.47h7.60M784.50 164.47h-7.60M109.10 170.97h4.00M784.50 170.97h-4.00M109.10 184.67h4.00M784.50 184.67h-4.00M109.10 211.36h4.00M784.50 211.36h-4.00M109.10 231.56h7.60M784.50 231.56h-7.60M109.10 238.06h4.00M784.50 238.06h-4.00M109.10 251.75h4.00M784.50 251.75h-4.00M109.10 278.45h4.00M784.50 278.45h-4.00M109.10 298.64h7.60M784.50 298.64h-7.60M109.10 305.14h4.00M784.50 305.14h-4.00M109.10 318.84h4.00M784.50 318.84h-4.00M109.10 345.53h4.00M784.50 345.53h-4.00M109.10 365.73h7.60M784.50 365.73h-7.60M109.10 372.23h4.00M784.50 372.23h-4.00M109.10 385.92h4.00M784.50 385.92h-4.00M109.10 412.62h4.00M784.50 412.62h-4.00M109.10 432.81h7.60M784.50 432.81h-7.60M109.10 439.32h4.00M784.50 439.32h-4.00M109.10 453.01h4.00M784.50 453.01h-4.00M109.10 479.71h4.00M784.50 479.71h-4.00"/>
</g>
<g font-family="'Liberation Serif', serif" font-size="25" fill="#000" style="font-kerning:none">
<text x="154.13" y="533.6" text-anchor="middle" xml:space="preserve">-4</text>
<text x="244.18" y="533.6" text-anchor="middle" xml:space="preserve">-2</text>
<text x="334.23" y="533.6" text-anchor="middle" xml:space="preserve"> 0</text>
<text x="424.29" y="533.6" text-anchor="middle" xml:space="preserve"> 2</text>
<text x="514.34" y="533.6" text-anchor="middle" xml:space="preserve"> 4</text>
<text x="604.39" y="533.6" text-anchor="middle" xml:space="preserve"> 6</text>
<text x="694.45" y="533.6" text-anchor="middle" xml:space="preserve"> 8</text>
<text x="784.50" y="533.6" text-anchor="middle" xml:space="preserve"> 10</text>
<text x="92.9" y="42.10" text-anchor="end">10<tspan font-size="20" dx="0.1" dy="-13.2">-</tspan><tspan font-size="20" dx="-1">1</tspan></text>
<text x="92.9" y="109.19" text-anchor="end">10<tspan font-size="20" dx="0.1" dy="-13.2">-</tspan><tspan font-size="20" dx="-1">2</tspan></text>
<text x="92.9" y="176.27" text-anchor="end">10<tspan font-size="20" dx="0.1" dy="-13.2">-</tspan><tspan font-size="20" dx="-1">3</tspan></text>
<text x="92.9" y="243.36" text-anchor="end">10<tspan font-size="20" dx="0.1" dy="-13.2">-</tspan><tspan font-size="20" dx="-1">4</tspan></text>
<text x="92.9" y="310.44" text-anchor="end">10<tspan font-size="20" dx="0.1" dy="-13.2">-</tspan><tspan font-size="20" dx="-1">5</tspan></text>
<text x="92.9" y="377.53" text-anchor="end">10<tspan font-size="20" dx="0.1" dy="-13.2">-</tspan><tspan font-size="20" dx="-1">6</tspan></text>
<text x="92.9" y="444.61" text-anchor="end">10<tspan font-size="20" dx="0.1" dy="-13.2">-</tspan><tspan font-size="20" dx="-1">7</tspan></text>
<text x="92.9" y="511.70" text-anchor="end">10<tspan font-size="20" dx="0.1" dy="-13.2">-</tspan><tspan font-size="20" dx="-1">8</tspan></text>
<text x="386.2" y="571.4" textLength="122.1" lengthAdjust="spacing">°CA ATDC</text>
<text transform="translate(28.6 265.45) rotate(-90)" text-anchor="middle" textLength="230.7">Species mass fractions</text>
<text x="243.8" y="56.6" text-anchor="middle">C<tspan font-size="20" dy="7.6">6</tspan><tspan dy="-7.6" font-size="1">​</tspan>H<tspan font-size="20" dy="7.6">5</tspan><tspan dy="-7.6" font-size="1">​</tspan>CH<tspan font-size="20" dy="7.6">3</tspan><tspan dy="-7.6" font-size="1">​</tspan></text>
<text x="243.7" y="103.3" text-anchor="middle">iC<tspan font-size="20" dy="7.6">8</tspan><tspan dy="-7.6" font-size="1">​</tspan>H<tspan font-size="20" dy="7.6">18</tspan><tspan dy="-7.6" font-size="1">​</tspan></text>
<text x="198.9" y="153.7" text-anchor="middle">nC<tspan font-size="20" dy="7.6">7</tspan><tspan dy="-7.6" font-size="1">​</tspan>H<tspan font-size="20" dy="7.6">16</tspan><tspan dy="-7.6" font-size="1">​</tspan></text>
<text x="244.2" y="207.2" text-anchor="middle">CO</text>
<text x="207.6" y="306.7">ϕ</text>
<path d="M227.90 299.60H242.30M227.90 303.40H242.30" fill="none" stroke="#000" stroke-width="1.35"/>
<text x="248.3" y="306.7">0.5</text>
<text x="184.2" y="339.1"><tspan font-style="italic">p</tspan><tspan font-style="italic" font-size="20" dx="-1.2" dy="7.4">0</tspan></text>
<path d="M213.40 332.00H227.50M213.40 335.80H227.50" fill="none" stroke="#000" stroke-width="1.35"/>
<text x="233.9" y="339.1" textLength="71.2" lengthAdjust="spacing">3.3 bar</text>
<text x="186.7" y="371.0"><tspan font-style="italic">T</tspan><tspan font-style="italic" font-size="20" dx="0.4" dy="7.3">0</tspan></text>
<path d="M217.60 363.90H231.70M217.60 367.70H231.70" fill="none" stroke="#000" stroke-width="1.35"/>
<text x="238.3" y="371.0">435 K</text>
<text x="170.5" y="420.6" textLength="147.6" lengthAdjust="spacing">Detailed: lines</text>
<text x="153.7" y="450.9" textLength="180.9" lengthAdjust="spacing">Skeletal: symbols</text>
</g>
</svg>
</body></html>
